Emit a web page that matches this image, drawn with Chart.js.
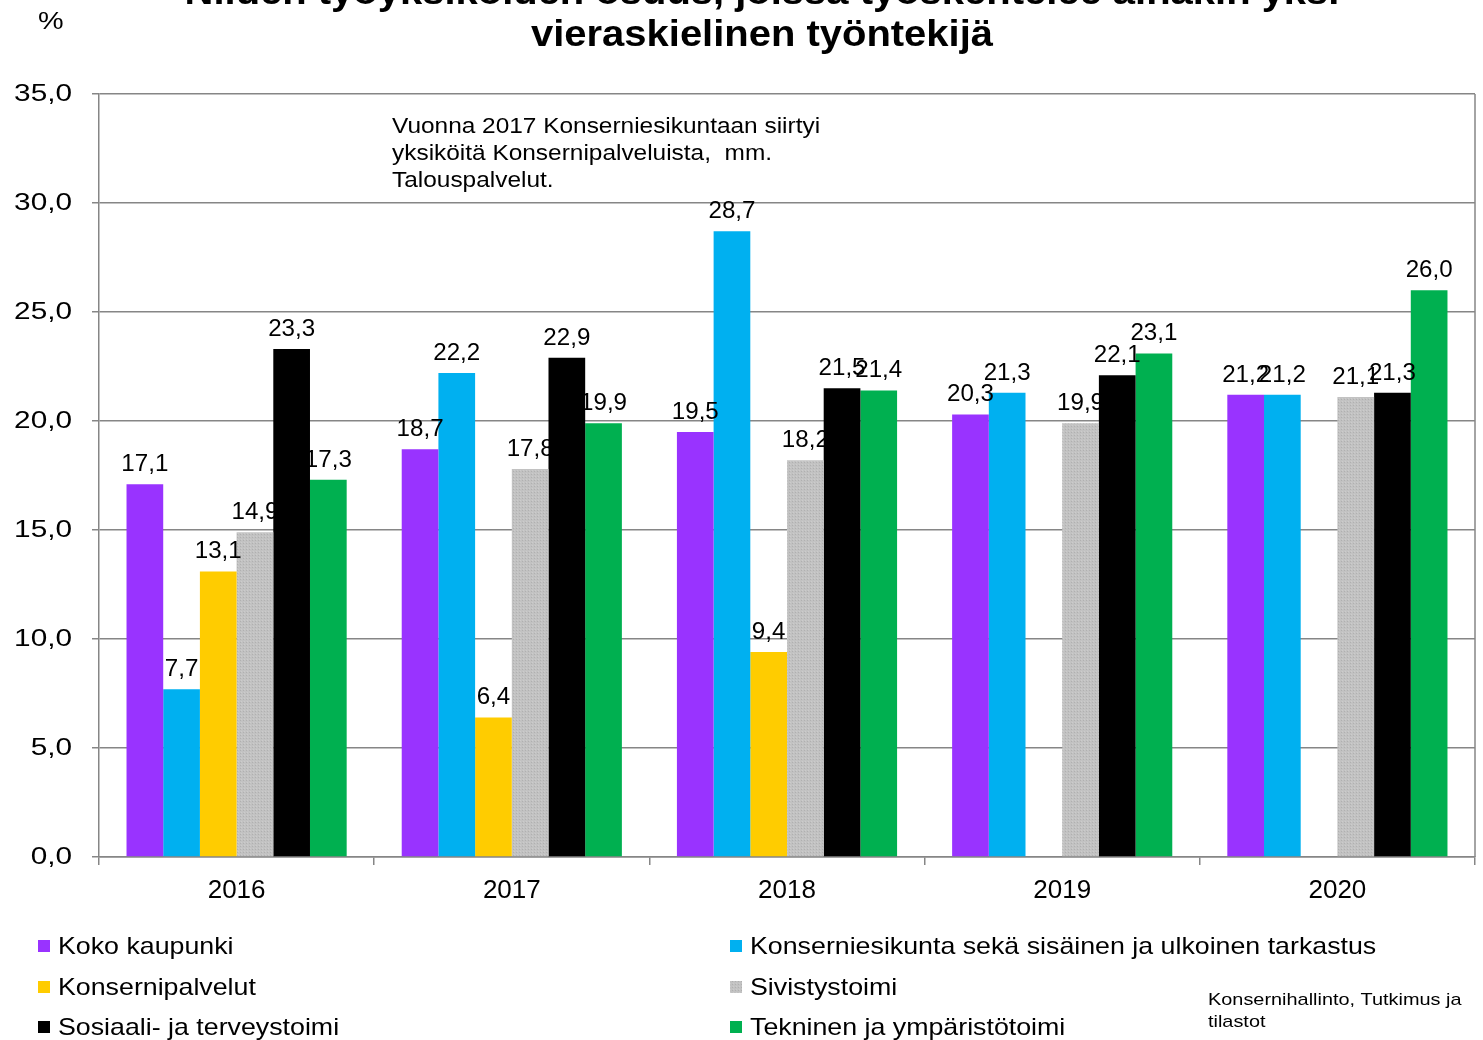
<!DOCTYPE html>
<html>
<head>
<meta charset="utf-8">
<script src="https://cdn.jsdelivr.net/npm/chart.js@4.4.1/dist/chart.umd.min.js"></script>
<style>
  html, body { margin: 0; padding: 0; background: #fff; }
  #wrap { width: 1483px; height: 1040px; position: relative; }
</style>
</head>
<body>
<div id="wrap"><canvas id="myChart"></canvas></div>
<script>
// vuodet ja sarjat
const vuodet = ["2016", "2017", "2018", "2019", "2020"];
const kokoKaupunki = [17.1, 18.7, 19.5, 20.3, 21.2];
const konserniesikunta = [7.7, 22.2, 28.7, 21.3, 21.2];
const konsernipalvelut = [13.1, 6.4, 9.4, null, null];
const sivistystoimi = [14.9, 17.8, 18.2, 19.9, 21.1];
const sosiaaliTerveys = [23.3, 22.9, 21.5, 22.1, 21.3];
const tekninen = [17.3, 19.9, 21.4, 23.1, 26.0];

const sarjaNimet = [
  "Koko kaupunki",
  "Konserniesikunta sekä sisäinen ja ulkoinen tarkastus",
  "Konsernipalvelut",
  "Sivistystoimi",
  "Sosiaali- ja terveystoimi",
  "Tekninen ja ympäristötoimi"
];
const sarjaArvot = [kokoKaupunki, konserniesikunta, konsernipalvelut, sivistystoimi, sosiaaliTerveys, tekninen];

const FONT = "'Liberation Sans', Arial, sans-serif";
const fmt = v => v.toFixed(1).replace(".", ",");

// harmaa pilkullinen kuvio (Sivistystoimi)
function harmaaKuvio() {
  const c = document.createElement("canvas");
  c.width = 3; c.height = 3;
  const g = c.getContext("2d");
  g.fillStyle = "#C2C2C2"; g.fillRect(0, 0, 3, 3);
  g.fillStyle = "#B0B0B0"; g.fillRect(0, 0, 1, 1);
  g.fillStyle = "#CCCCCC"; g.fillRect(1, 2, 1, 1);
  return g.createPattern(c, "repeat");
}
const varit = ["#9933FF", "#00B0F0", "#FFCC00", harmaaKuvio(), "#000000", "#00B050"];

// teksti vaakasuunnassa venytettynä (alkuperäinen kuva on hieman levitetty)
function teksti(ctx, t, x, y, font, sx, align) {
  ctx.save();
  ctx.font = font;
  ctx.textAlign = align || "left";
  ctx.translate(x, y);
  ctx.scale(sx, 1);
  ctx.fillText(t, 0, 0);
  ctx.restore();
}

const piirtoPlugin = {
  id: "piirto",
  afterDatasetsDraw(chart) {
    const ctx = chart.ctx;
    const a = chart.chartArea;
    ctx.save();
    // oikea reuna
    ctx.strokeStyle = "#868686";
    ctx.lineWidth = 1.5;
    ctx.beginPath();
    ctx.moveTo(a.right, a.top);
    ctx.lineTo(a.right, a.bottom);
    ctx.stroke();

    // arvot palkkien päälle
    ctx.fillStyle = "#000";
    ctx.textBaseline = "alphabetic";
    chart.data.datasets.forEach((ds, i) => {
      const meta = chart.getDatasetMeta(i);
      meta.data.forEach((bar, j) => {
        const v = ds.data[j];
        if (v === null) return;
        teksti(ctx, fmt(v), bar.x, bar.y - 13, "23px " + FONT, 1.05, "center");
      });
    });
    ctx.restore();
  },
  afterDraw(chart) {
    const ctx = chart.ctx;
    ctx.save();
    ctx.fillStyle = "#000";
    ctx.textBaseline = "middle";

    // y-akselin arvot
    const y = chart.scales.y;
    y.ticks.forEach(t => {
      teksti(ctx, fmt(t.value), 72, y.getPixelForValue(t.value), "24px " + FONT, 1.24, "right");
    });

    // otsikko
    const tf = "bold 37px 'Liberation Sans Narrow', 'Arial Narrow', " + FONT;
    teksti(ctx, "Niiden työyksiköiden osuus, joissa työskentelee ainakin yksi", 762, -6, tf, 1.08, "center");
    teksti(ctx, "vieraskielinen työntekijä", 762, 36, tf, 1.08, "center");

    teksti(ctx, "%", 38, 22, "24px " + FONT, 1.2);

    // huomautus
    const hf = "22px " + FONT;
    teksti(ctx, "Vuonna 2017 Konserniesikuntaan siirtyi", 392, 127, hf, 1.11);
    teksti(ctx, "yksiköitä Konsernipalveluista,  mm.", 392, 154, hf, 1.11);
    teksti(ctx, "Talouspalvelut.", 392, 181, hf, 1.11);

    // selite kahdessa sarakkeessa
    const sx = [38, 730];
    const sy = [946, 987, 1027];
    chart.data.datasets.forEach((ds, i) => {
      const x = sx[i % 2];
      const yy = sy[Math.floor(i / 2)];
      ctx.fillStyle = ds.backgroundColor;
      ctx.fillRect(x, yy - 6, 12, 12);
      ctx.fillStyle = "#000";
      teksti(ctx, ds.label, x + 20, yy + 1, "24px " + FONT, 1.115);
    });

    // lähde
    teksti(ctx, "Konsernihallinto, Tutkimus ja", 1208, 1000, "17px " + FONT, 1.17);
    teksti(ctx, "tilastot", 1208, 1022, "17px " + FONT, 1.17);
    ctx.restore();
  }
};

new Chart(document.getElementById("myChart"), {
  type: "bar",
  data: {
    labels: vuodet,
    datasets: sarjaNimet.map((nimi, i) => ({
      label: nimi,
      data: sarjaArvot[i],
      backgroundColor: varit[i],
      borderWidth: 0,
      barPercentage: 1.0,
      categoryPercentage: 0.8
    }))
  },
  options: {
    responsive: true,
    maintainAspectRatio: false,
    animation: false,
    layout: { padding: { top: 94, right: 8, left: 0, bottom: 0 } },
    plugins: {
      legend: { display: false },
      tooltip: { enabled: false }
    },
    scales: {
      x: {
        afterFit: s => { s.height = 183; },
        grid: {
          offset: true,
          drawOnChartArea: false,
          color: "#868686",
          lineWidth: 1.5,
          tickLength: 8
        },
        border: { color: "#868686", width: 1.5 },
        ticks: {
          color: "#000",
          font: { family: FONT, size: 26 },
          padding: 10
        }
      },
      y: {
        min: 0,
        max: 35,
        afterFit: s => { s.width = 99; },
        grid: {
          color: "#868686",
          lineWidth: 1.5,
          tickLength: 7
        },
        border: { color: "#868686", width: 1.5 },
        ticks: {
          stepSize: 5,
          color: "rgba(0,0,0,0)",
          font: { family: FONT, size: 24 },
          padding: 18,
          callback: v => fmt(v)
        }
      }
    }
  },
  plugins: [piirtoPlugin]
});
</script>
</body>
</html>
